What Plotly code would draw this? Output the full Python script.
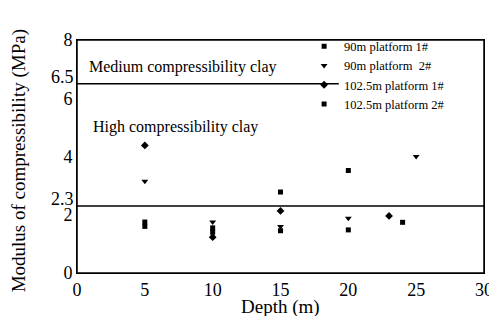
import plotly.graph_objects as go

# Data (Depth in m, Modulus of compressibility in MPa)
s1_name = "90m platform 1#"
s1_x = [5, 10, 15, 20]
s1_y = [1.75, 1.55, 1.45, 1.48]

s2_name = "90m platform  2#"
s2_x = [5, 10, 15, 20, 25]
s2_y = [3.15, 1.75, 1.6, 1.88, 4.0]

s3_name = "102.5m platform 1#"
s3_x = [5, 10, 15, 23]
s3_y = [4.38, 1.23, 2.13, 1.96]

s4_name = "102.5m platform 2#"
s4_x = [5, 10, 15, 20, 24]
s4_y = [1.6, 1.4, 2.78, 3.52, 1.74]

medium_x = [0, 19.3]
medium_limit = 6.5
high_x = [0, 30]
high_limit = 2.3

y_tickvals = [0, 2, 4, 6, 8]
y_ticktext = ["0", "2", "4", "6", "8"]
extra_y_labels = [2.3, 6.5]
x_tickvals = [0, 5, 10, 15, 20, 25, 30]

font = "Liberation Serif"

fig = go.Figure()

fig.add_trace(go.Scatter(x=medium_x, y=[medium_limit] * 2, mode="lines",
                         line=dict(color="black", width=1.5), showlegend=False, hoverinfo="skip"))
fig.add_trace(go.Scatter(x=high_x, y=[high_limit] * 2, mode="lines",
                         line=dict(color="black", width=1.5), showlegend=False, hoverinfo="skip"))

fig.add_trace(go.Scatter(x=s1_x, y=s1_y, mode="markers", name=s1_name,
                         marker=dict(symbol="square", size=5, color="black")))
fig.add_trace(go.Scatter(x=s2_x, y=s2_y, mode="markers", name=s2_name,
                         marker=dict(symbol="triangle-down", size=6, color="black")))
fig.add_trace(go.Scatter(x=s3_x, y=s3_y, mode="markers", name=s3_name,
                         marker=dict(symbol="diamond", size=6, color="black")))
fig.add_trace(go.Scatter(x=s4_x, y=s4_y, mode="markers", name=s4_name,
                         marker=dict(symbol="square", size=5, color="black")))

# region labels
fig.add_annotation(x=0.7, y=7.08, xref="x", yref="y", text="Medium compressibility clay",
                   showarrow=False, xanchor="left", font=dict(family=font, size=16, color="black"))
fig.add_annotation(x=1.0, y=5.02, xref="x", yref="y", text="High compressibility clay",
                   showarrow=False, xanchor="left", font=dict(family=font, size=16, color="black"))

# extra y labels for the boundary values
for v in extra_y_labels:
    fig.add_annotation(x=0, y=v, xref="paper", yref="y", text=str(v), showarrow=False,
                       xanchor="right", yanchor="middle", xshift=-1, yshift=7,
                       font=dict(family=font, size=18, color="black"))

# axis titles
fig.add_annotation(x=-0.142, y=0.48, xref="paper", yref="paper",
                   text="Modulus of compressibility (MPa)", textangle=-90, showarrow=False,
                   xanchor="center", yanchor="middle", font=dict(family=font, size=19, color="black"))
fig.add_annotation(x=0.5, y=-0.146, xref="paper", yref="paper", text="Depth (m)",
                   showarrow=False, xanchor="center", yanchor="middle",
                   font=dict(family=font, size=19, color="black"))

# frame
fig.add_shape(type="rect", xref="paper", yref="paper", x0=0, y0=0, x1=1, y1=1,
              line=dict(color="black", width=1.5))

# page body has an 8px margin; figure sized/margined to compensate
fig.update_layout(
    width=489, height=308,
    margin=dict(l=69, r=13, t=32, b=43),
    paper_bgcolor="white", plot_bgcolor="white",
    font=dict(family=font, size=16, color="black"),
    legend=dict(x=0.558, y=1.036, xanchor="left", yanchor="top",
                bgcolor="rgba(0,0,0,0)", borderwidth=0,
                font=dict(family=font, size=12.5, color="black"),
                tracegroupgap=0, itemwidth=30),
    xaxis=dict(range=[0, 30], tickvals=x_tickvals, showgrid=False, zeroline=False,
               showline=True, linecolor="black", linewidth=1, mirror=True, ticks="",
               automargin=False, ticklabeloverflow="allow",
               tickfont=dict(family=font, size=18)),
    yaxis=dict(range=[0, 8], tickvals=y_tickvals, ticktext=y_ticktext, showgrid=False,
               zeroline=False, showline=True, linecolor="black", linewidth=1, mirror=True,
               ticks="", automargin=False, ticklabeloverflow="allow",
               tickfont=dict(family=font, size=18)),
)

fig.write_html("out.html")
